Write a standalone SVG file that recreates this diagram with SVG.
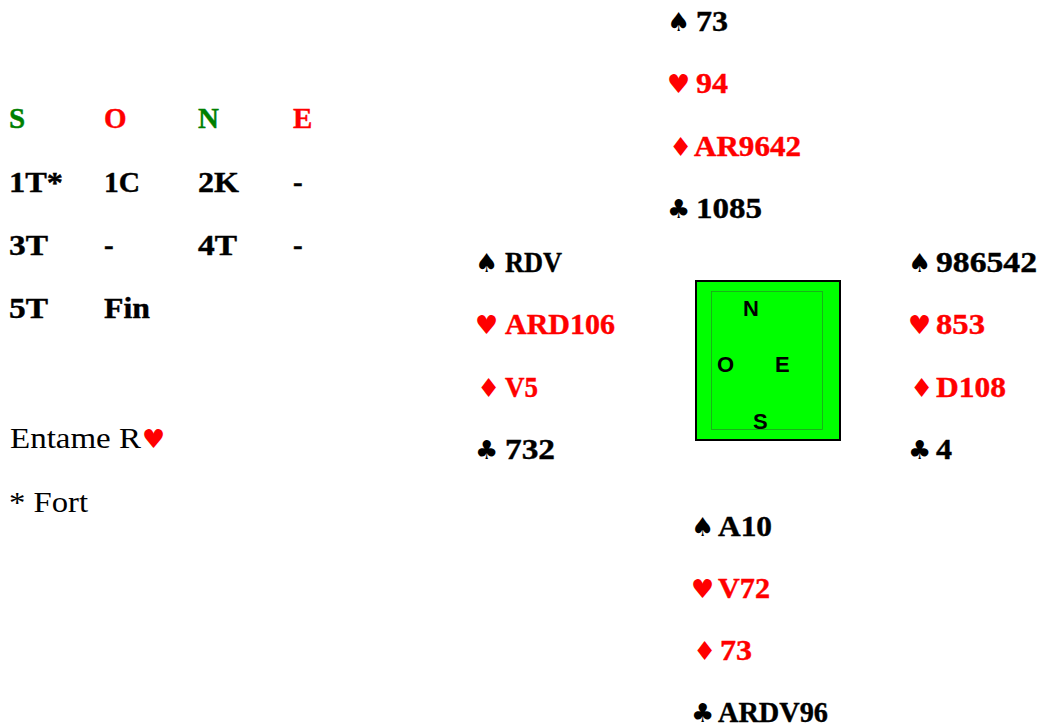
<svg xmlns="http://www.w3.org/2000/svg" width="1040" height="727" viewBox="0 0 1040 727">
<style>
.t{font-family:"Liberation Serif","DejaVu Serif",serif;font-weight:bold;font-size:29px;fill:#000;stroke:#000;stroke-width:0.4}
.n{font-family:"Liberation Serif","DejaVu Serif",serif;font-size:29px;fill:#000}
.s{font-family:"DejaVu Sans",sans-serif;font-size:26px;fill:#000}
.c{font-family:"Liberation Sans",Arial,sans-serif;font-weight:bold;font-size:22px;fill:#000}
.r{fill:#ff0000;stroke:#ff0000}
.g{fill:#008000;stroke:#008000}
.s.r{stroke:none}
</style>
<rect width="1040" height="727" fill="#fff"/>
<g id="bidding">
<text class="t g" x="9" y="128">S</text>
<text class="t r" x="104" y="128">O</text>
<text class="t g" x="198" y="128">N</text>
<text class="t r" x="293" y="128">E</text>
<text class="t" x="9" y="192" textLength="54" lengthAdjust="spacingAndGlyphs">1T*</text>
<text class="t" x="104" y="192" textLength="36" lengthAdjust="spacingAndGlyphs">1C</text>
<text class="t" x="198" y="192" textLength="41" lengthAdjust="spacingAndGlyphs">2K</text>
<text class="t" x="293" y="192">-</text>
<text class="t" x="9" y="255" textLength="39" lengthAdjust="spacingAndGlyphs">3T</text>
<text class="t" x="104" y="255">-</text>
<text class="t" x="198" y="255" textLength="39" lengthAdjust="spacingAndGlyphs">4T</text>
<text class="t" x="293" y="255">-</text>
<text class="t" x="9" y="318" textLength="39" lengthAdjust="spacingAndGlyphs">5T</text>
<text class="t" x="104" y="318" textLength="46" lengthAdjust="spacingAndGlyphs">Fin</text>
</g>
<g id="notes">
<text class="n" x="10" y="448" textLength="131" lengthAdjust="spacingAndGlyphs">Entame R</text>
<text class="s r" x="142" y="448">♥</text>
<text class="n" x="9" y="512" textLength="79" lengthAdjust="spacingAndGlyphs">* Fort</text>
</g>
<g id="north">
<text class="s" x="667" y="31">♠</text>
<text class="t" x="696" y="31" textLength="32" lengthAdjust="spacingAndGlyphs">73</text>
<text class="s r" x="667" y="93">♥</text>
<text class="t r" x="696" y="93" textLength="32" lengthAdjust="spacingAndGlyphs">94</text>
<text class="s r" x="669" y="156">♦</text>
<text class="t r" x="694" y="156" textLength="107" lengthAdjust="spacingAndGlyphs">AR9642</text>
<text class="s" x="667" y="218">♣</text>
<text class="t" x="696" y="218" textLength="66" lengthAdjust="spacingAndGlyphs">1085</text>
</g>
<g id="west">
<text class="s" x="475" y="272">♠</text>
<text class="t" x="505" y="272" textLength="57" lengthAdjust="spacingAndGlyphs">RDV</text>
<text class="s r" x="475" y="334">♥</text>
<text class="t r" x="505" y="334" textLength="110" lengthAdjust="spacingAndGlyphs">ARD106</text>
<text class="s r" x="477" y="397">♦</text>
<text class="t r" x="505" y="397" textLength="33" lengthAdjust="spacingAndGlyphs">V5</text>
<text class="s" x="475" y="459">♣</text>
<text class="t" x="505" y="459" textLength="50" lengthAdjust="spacingAndGlyphs">732</text>
</g>
<g id="east">
<text class="s" x="908" y="272">♠</text>
<text class="t" x="936" y="272" textLength="101" lengthAdjust="spacingAndGlyphs">986542</text>
<text class="s r" x="908" y="334">♥</text>
<text class="t r" x="936" y="334" textLength="49" lengthAdjust="spacingAndGlyphs">853</text>
<text class="s r" x="910" y="397">♦</text>
<text class="t r" x="936" y="397" textLength="70" lengthAdjust="spacingAndGlyphs">D108</text>
<text class="s" x="908" y="459">♣</text>
<text class="t" x="936" y="459" textLength="16" lengthAdjust="spacingAndGlyphs">4</text>
</g>
<g id="south">
<text class="s" x="691" y="536">♠</text>
<text class="t" x="718" y="536" textLength="54" lengthAdjust="spacingAndGlyphs">A10</text>
<text class="s r" x="691" y="598">♥</text>
<text class="t r" x="718" y="598" textLength="52" lengthAdjust="spacingAndGlyphs">V72</text>
<text class="s r" x="693" y="660">♦</text>
<text class="t r" x="720" y="660" textLength="32" lengthAdjust="spacingAndGlyphs">73</text>
<text class="s" x="691" y="722">♣</text>
<text class="t" x="718" y="722" textLength="110" lengthAdjust="spacingAndGlyphs">ARDV96</text>
</g>
<g id="compass">
<rect x="696" y="281" width="144" height="159" fill="#00ff00" stroke="#000" stroke-width="2"/>
<rect x="711.5" y="291.5" width="111" height="138" fill="none" stroke="#1fa01f" stroke-width="0.8"/>
<text class="c" x="743" y="316">N</text>
<text class="c" x="717" y="372">O</text>
<text class="c" x="775" y="372">E</text>
<text class="c" x="753" y="429">S</text>
</g>
</svg>
